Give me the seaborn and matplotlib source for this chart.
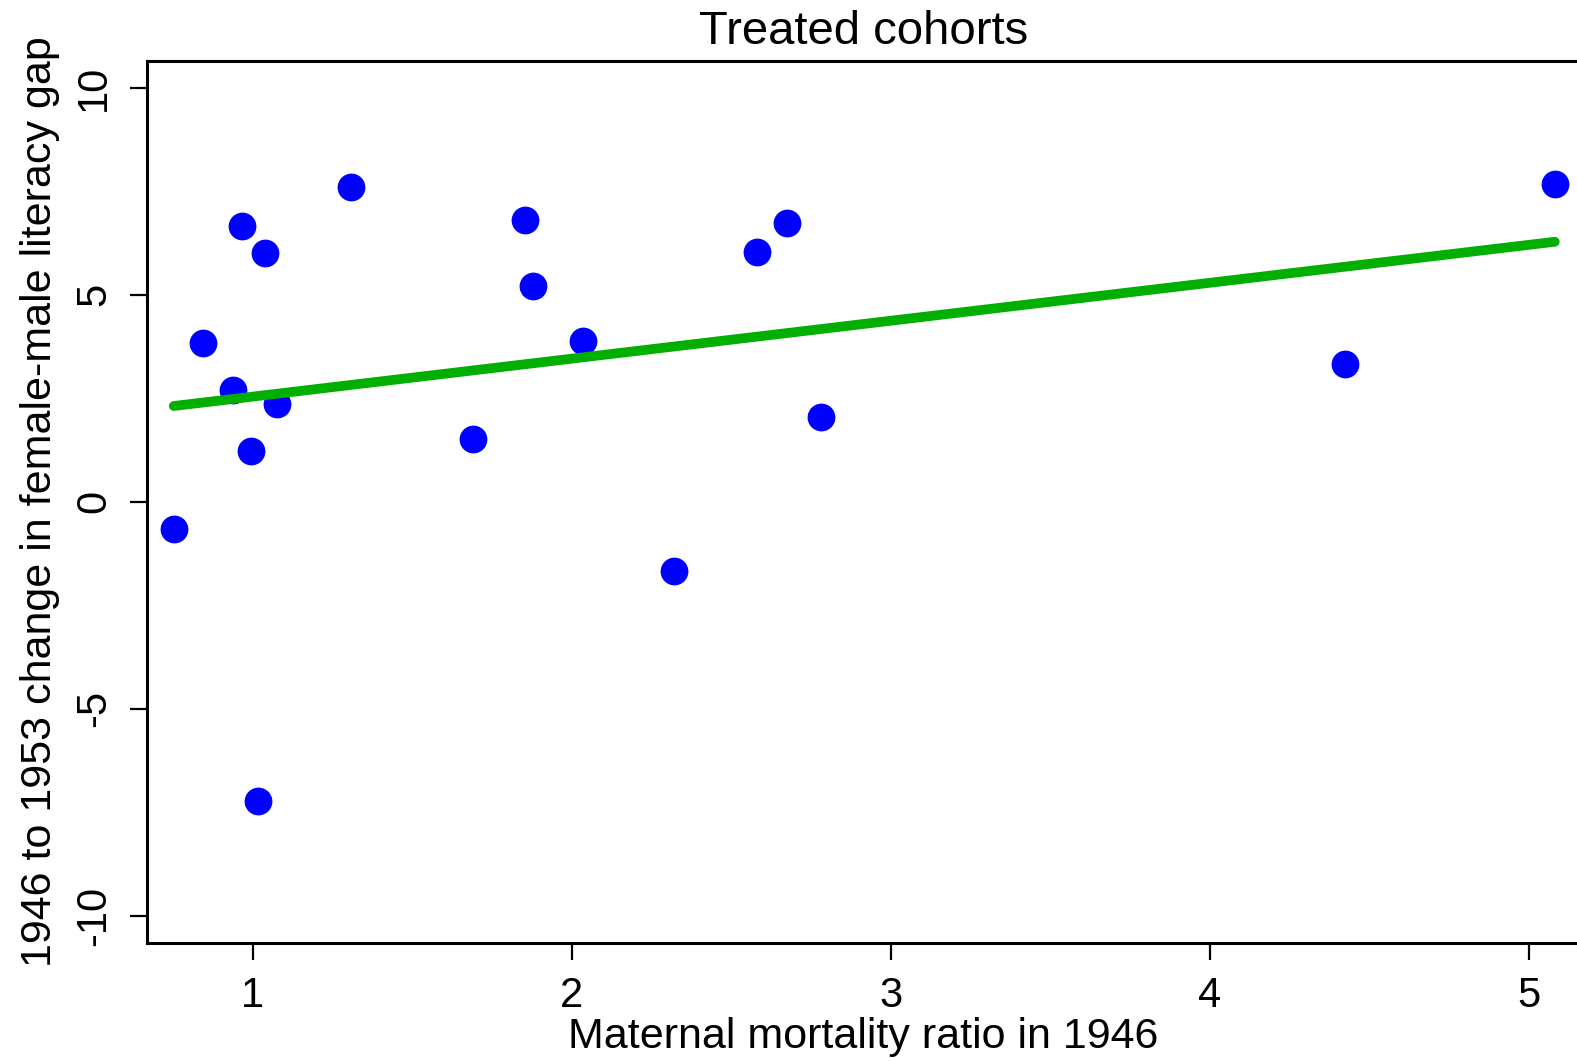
import matplotlib
matplotlib.use("Agg")
import matplotlib.pyplot as plt
import seaborn as sns
import numpy as np
import pandas as pd

# Data
mmr_1946 = [0.752, 0.843, 0.937, 0.966, 0.993, 1.017, 1.039, 1.075, 1.307, 1.689,
            1.853, 1.879, 2.035, 2.320, 2.580, 2.675, 2.781, 4.422, 5.081]
gap_change = [-0.66, 3.84, 2.70, 6.66, 1.23, -7.22, 6.01, 2.36, 7.60, 1.51,
              6.80, 5.22, 3.87, -1.67, 6.03, 6.72, 2.05, 3.32, 7.67]
x_ticks = [1, 2, 3, 4, 5]
y_ticks = [-10, -5, 0, 5, 10]
y_tick_labels = ["-10", "-5", "0", "5", "10"]

title = "Treated cohorts"
x_label = "Maternal mortality ratio in 1946"
y_label = "1946 to 1953 change in female-male literacy gap"

df = pd.DataFrame({"mmr": mmr_1946, "gap": gap_change})

sns.set_style("ticks")
plt.rcParams["font.family"] = ["Liberation Sans", "DejaVu Sans"]

W, H = 1577, 1061
fig = plt.figure(figsize=(W / 100, H / 100), dpi=100)
left, right, top, bottom = 147, 1580, 61, 943
ax = fig.add_axes([left / W, (H - bottom) / H, (right - left) / W, (bottom - top) / H])

sns.regplot(data=df, x="mmr", y="gap", ci=None, ax=ax,
            scatter_kws=dict(s=400, color="#0000FF", linewidths=0, alpha=1),
            line_kws=dict(color="#00AF00", lw=7, solid_capstyle="round"))

ax.set_xlim(0.668, 5.16)
ax.set_ylim(-10.66, 10.645)
ax.set_xticks(x_ticks)
ax.set_xticklabels([str(t) for t in x_ticks])
ax.set_yticks(y_ticks)
ax.set_yticklabels(y_tick_labels, rotation=90, va="center")

ax.tick_params(axis="both", which="major", direction="out", length=12.5, width=1.6,
               color="black", labelsize=30, labelcolor="black", pad=11)
for s in ax.spines.values():
    s.set_linewidth(2.2)
    s.set_color("black")

ax.set_title(title, fontsize=34, pad=12, color="black")
ax.set_xlabel(x_label, fontsize=31, color="black")
ax.set_ylabel(y_label, fontsize=31, color="black")
ax.xaxis.set_label_coords(0.5, -0.084)
ax.yaxis.set_label_coords(-0.061, 0.5)

fig.savefig("out.png", dpi=100, facecolor="white")
